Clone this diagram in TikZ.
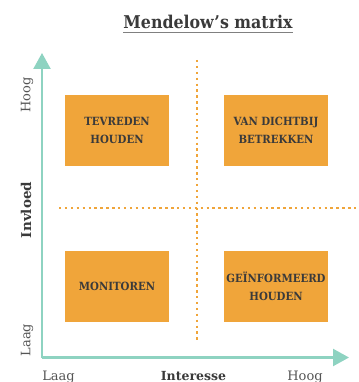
\documentclass[tikz,border=0pt]{standalone}
\usepackage{fontspec}
\setmainfont{DejaVu Serif}
\newfontfamily\condfont{DejaVu Serif Condensed}
\usetikzlibrary{arrows.meta}
\definecolor{axisteal}{HTML}{8ED3C1}
\definecolor{boxorange}{HTML}{F0A53A}
\definecolor{txtdark}{HTML}{3A3A3A}
\definecolor{lbltxt}{HTML}{555555}
\tikzset{
  axisline/.style={draw=axisteal, line width=2.3pt, -{Triangle[width=17pt,length=16pt]}},
  dotline/.style={draw=boxorange, line width=2.6pt, dash pattern=on 2.4pt off 3.5pt},
  quad/.style={rectangle, fill=boxorange, minimum width=104pt, minimum height=71pt, inner sep=0pt,
    align=center, text=txtdark, font=\condfont\bfseries\fontsize{11.3}{18}\selectfont},
  lvl/.style={text=lbltxt, font=\fontsize{13}{15}\selectfont, inner sep=0pt},
  axtitle/.style={text=txtdark, font=\bfseries\fontsize{12.5}{14}\selectfont, inner sep=0pt}
}
\begin{document}
\begin{tikzpicture}[x=1pt,y=-1pt]
\useasboundingbox (0,0) rectangle (358,382);
% title
\node[text=txtdark, font=\condfont\bfseries\fontsize{17.6}{20}\selectfont, inner sep=0pt, anchor=base] (title) at (208,28.5) {Mendelow’s matrix};
\draw[color=gray, line width=1.3pt] (title.base west) ++(0,4) coordinate (ul1) -- (title.base east |- ul1);
% dotted separators
\coordinate (vtop) at (197,60);
\coordinate (vbot) at (197,343);
\coordinate (hleft) at (59,208);
\coordinate (hright) at (360,208);
\draw[dotline] (vtop) -- (vbot);
\draw[dotline] (hleft) -- (hright);
% axes
\coordinate (origin) at (42,357.5);
\coordinate (ytip) at (42,53);
\coordinate (xtip) at (349,357.5);
\draw[axisline] (origin) -- (ytip);
\draw[axisline] (origin) -- (xtip);
% quadrants
\node[quad] (tl) at (117,130.5) {TEVREDEN\\HOUDEN};
\node[quad] (tr) at (276,130.5) {VAN DICHTBIJ\\BETREKKEN};
\node[quad] (bl) at (117,286.5) {MONITOREN};
\node[quad] (br) at (276,286.5) {GEÏNFORMEERD\\HOUDEN};
% axis labels
\node[lvl, rotate=90] (yhigh) at (27,95) {Hoog};
\node[lvl, rotate=90] (ylow) at (27,340) {Laag};
\node[axtitle, rotate=90, font=\bfseries\fontsize{13.5}{15}\selectfont] (ytitle) at (26,210) {Invloed};
\node[lvl, anchor=base] (xlow) at (58.5,380) {Laag};
\node[axtitle, anchor=base] (xtitle) at (193.5,380) {Interesse};
\node[lvl, anchor=base] (xhigh) at (305,380) {Hoog};
\end{tikzpicture}
\end{document}
